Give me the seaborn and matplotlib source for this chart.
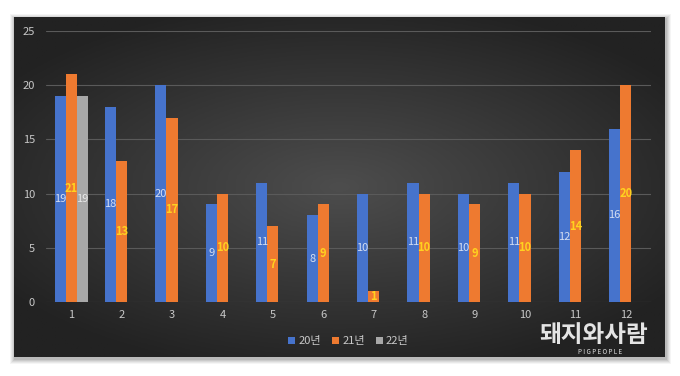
import numpy as np
import pandas as pd
import seaborn as sns
import matplotlib.pyplot as plt
from matplotlib.patches import Rectangle

months = [str(m) for m in range(1, 13)]
series = ["20년", "21년", "22년"]
v20 = [19, 18, 20, 9, 11, 8, 10, 11, 10, 11, 12, 16]
v21 = [21, 13, 17, 10, 7, 9, 1, 10, 9, 10, 14, 20]
v22 = [19] + [np.nan] * 11

colors = ["#4673CC", "#EE7A30", "#A8A8A8"]
label_colors = ["#D4DEF2", "#FFD21F", "#E8E8E8"]

df = pd.DataFrame({
    "month": months * 3,
    "series": [s for s in series for _ in months],
    "value": v20 + v21 + v22,
})

sns.set_theme(style="dark")
plt.rcParams["font.family"] = ["Noto Sans CJK KR", "DejaVu Sans"]

fig = plt.figure(figsize=(6.8, 3.76), dpi=100)
fig.patch.set_facecolor("white")

# panel shadow
W, H = 680, 376
px0, py0, px1, py1 = 14, 17, 665, 357
for i, a in enumerate([0.04, 0.05, 0.06, 0.07, 0.08]):
    d = 5 - i
    fig.patches.append(Rectangle(((px0 - d + 1) / W, (H - py1 - d - 2) / H),
                                 (px1 - px0 + 2 * d) / W, (py1 - py0 + 2 * d) / H,
                                 transform=fig.transFigure, color="black", alpha=a,
                                 lw=0, zorder=0))

# dark radial gradient panel
bg = fig.add_axes([px0 / W, (H - py1) / H, (px1 - px0) / W, (py1 - py0) / H], zorder=1)
yy, xx = np.mgrid[-1:1:200j, -1:1:400j]
r = np.sqrt((xx / 1.0) ** 2 + (yy / 0.9) ** 2)
grad = np.clip(1 - r / 1.25, 0, 1)
bg.imshow(grad, cmap=sns.blend_palette(["#222222", "#4d4d4d"], as_cmap=True),
          aspect="auto", extent=[0, 1, 0, 1], vmin=0, vmax=1)
bg.set_axis_off()

ax = fig.add_axes([46 / W, (H - 302) / H, (651 - 46) / W, (302 - 31) / H], zorder=2)
ax.patch.set_alpha(0)
sns.barplot(data=df, x="month", y="value", hue="series", palette=colors,
            width=0.66, gap=0, ax=ax, saturation=1, errorbar=None, zorder=3,
            linewidth=0, edgecolor="none")

for cont, lc in zip(ax.containers, label_colors):
    vals = [b.get_height() for b in cont]
    labels = ["" if np.isnan(v) else f"{int(v)}" for v in vals]
    bold = "bold" if lc == "#FFD21F" else "normal"
    ax.bar_label(cont, labels=labels, label_type="center", color=lc,
                 fontsize=8, fontweight=bold)

ax.set_ylim(0, 25)
ax.set_xlim(-0.5, 11.5)
ax.set_yticks([0, 5, 10, 15, 20, 25])
ax.grid(axis="y", color="#5a5a5a", lw=0.8, zorder=0)
ax.grid(axis="x", visible=False)
ax.set_axisbelow(True)
for s in ax.spines.values():
    s.set_visible(False)
ax.tick_params(axis="both", length=0, colors="#c8c8c8", labelsize=8, pad=6)
ax.tick_params(axis="y", pad=8)
ax.set_xlabel("")
ax.set_ylabel("")

leg = ax.legend(loc="center", bbox_to_anchor=(0.5, -0.145), ncol=3, frameon=False,
                fontsize=8, handlelength=0.6, handleheight=0.6, handletextpad=0.3,
                columnspacing=1.0, labelcolor="#c8c8c8")

# watermark
fig.text(594 / W, (H - 335) / H, "돼지와사람", color="#e4e4e4", fontsize=17,
         fontweight="bold", ha="center", va="center", zorder=5)
fig.text(600 / W, (H - 352) / H, "P I G P E O P L E", color="#e4e4e4", fontsize=4.5,
         ha="center", va="center", zorder=5)

fig.savefig("out.png", dpi=100)
